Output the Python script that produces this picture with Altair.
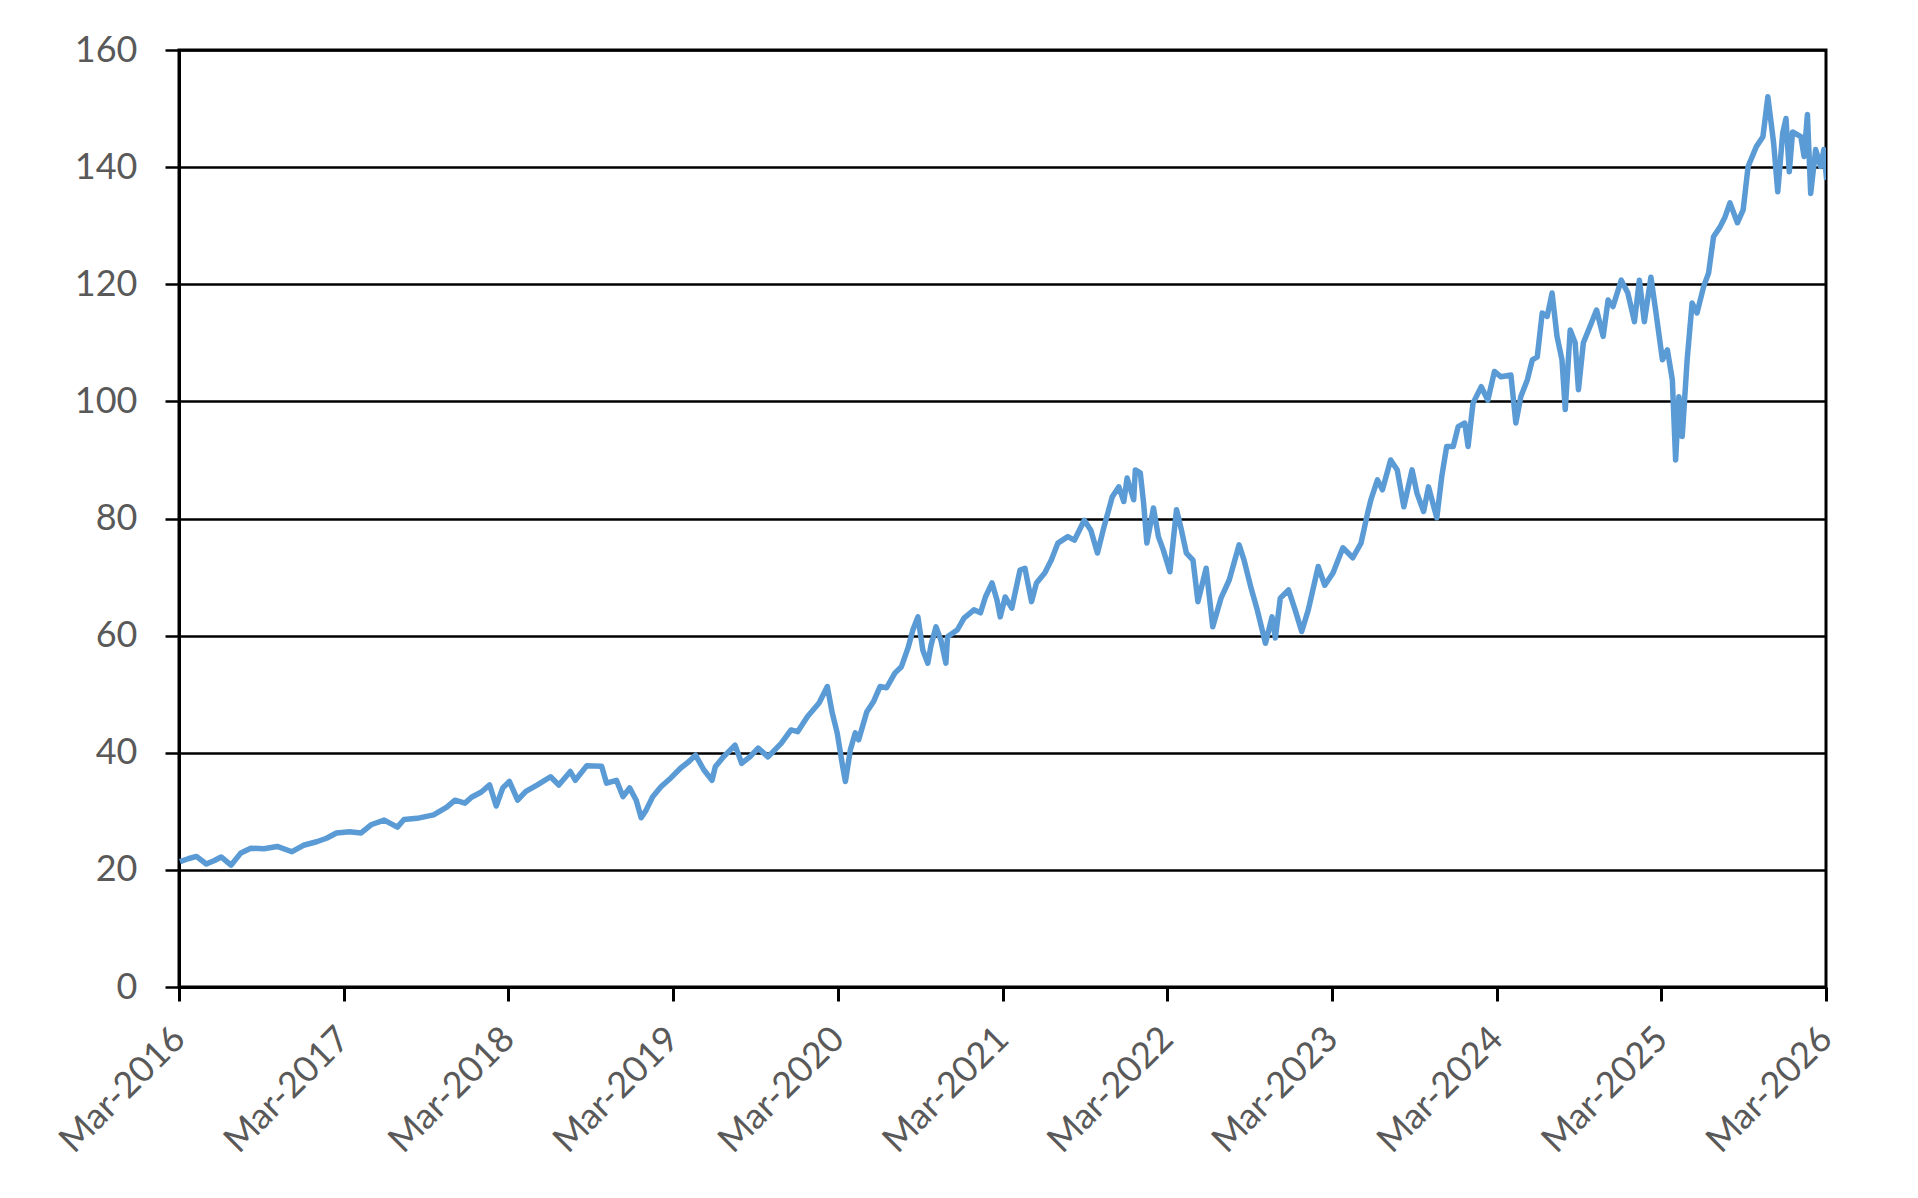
import altair as alt
import pandas as pd

# decimal year of each reading and the value
t_year = [
    2016.17, 2016.22, 2016.27, 2016.33, 2016.38, 2016.42, 2016.48, 2016.54, 2016.60, 2016.68,
    2016.76, 2016.85, 2016.92, 2017.00, 2017.06, 2017.12, 2017.20, 2017.27, 2017.33, 2017.41,
    2017.49, 2017.53, 2017.61, 2017.71, 2017.79, 2017.84, 2017.90, 2017.94, 2018.00, 2018.05,
    2018.09, 2018.13, 2018.17, 2018.22, 2018.27, 2018.34, 2018.42, 2018.47, 2018.54, 2018.57,
    2018.64, 2018.73, 2018.76, 2018.82, 2018.86, 2018.90, 2018.94, 2018.97, 2019.00, 2019.04,
    2019.09, 2019.15, 2019.21, 2019.26, 2019.30, 2019.35, 2019.40, 2019.42, 2019.47, 2019.54,
    2019.58, 2019.63, 2019.68, 2019.74, 2019.82, 2019.88, 2019.92, 2019.98, 2020.05, 2020.10,
    2020.13, 2020.16, 2020.19, 2020.21, 2020.24, 2020.27, 2020.29, 2020.34, 2020.38, 2020.42,
    2020.46, 2020.51, 2020.55, 2020.59, 2020.62, 2020.65, 2020.68, 2020.71, 2020.73, 2020.76,
    2020.79, 2020.82, 2020.83, 2020.89, 2020.93, 2020.99, 2021.03, 2021.06, 2021.10, 2021.13,
    2021.15, 2021.18, 2021.22, 2021.27, 2021.30, 2021.34, 2021.37, 2021.42, 2021.46, 2021.50,
    2021.56, 2021.60, 2021.66, 2021.70, 2021.74, 2021.78, 2021.83, 2021.87, 2021.90, 2021.92,
    2021.96, 2021.97, 2022.00, 2022.02, 2022.04, 2022.08, 2022.11, 2022.14, 2022.18, 2022.22,
    2022.25, 2022.28, 2022.32, 2022.35, 2022.40, 2022.44, 2022.49, 2022.54, 2022.60, 2022.63,
    2022.67, 2022.71, 2022.76, 2022.80, 2022.82, 2022.85, 2022.90, 2022.94, 2022.98, 2023.02,
    2023.08, 2023.12, 2023.17, 2023.23, 2023.29, 2023.34, 2023.38, 2023.40, 2023.44, 2023.47,
    2023.52, 2023.56, 2023.60, 2023.65, 2023.68, 2023.72, 2023.75, 2023.80, 2023.83, 2023.86,
    2023.90, 2023.93, 2023.97, 2023.99, 2024.02, 2024.07, 2024.11, 2024.15, 2024.19, 2024.25,
    2024.28, 2024.31, 2024.35, 2024.38, 2024.41, 2024.44, 2024.47, 2024.50, 2024.53, 2024.56,
    2024.58, 2024.61, 2024.64, 2024.66, 2024.69, 2024.73, 2024.77, 2024.81, 2024.84, 2024.87,
    2024.92, 2024.96, 2025.00, 2025.03, 2025.06, 2025.10, 2025.13, 2025.17, 2025.20, 2025.23,
    2025.25, 2025.27, 2025.29, 2025.32, 2025.35, 2025.38, 2025.42, 2025.45, 2025.48, 2025.52,
    2025.55, 2025.58, 2025.625, 2025.66, 2025.69, 2025.74, 2025.78, 2025.81, 2025.83, 2025.845,
    2025.87, 2025.90, 2025.92, 2025.94, 2025.96, 2026.01, 2026.03, 2026.05, 2026.07, 2026.10,
    2026.13, 2026.15, 2026.167,
]
values = [
    21.4, 21.9, 22.3, 21.0, 21.6, 22.2, 20.8, 22.9, 23.7, 23.6,
    24.0, 23.1, 24.2, 24.8, 25.4, 26.3, 26.5, 26.3, 27.7, 28.5,
    27.3, 28.6, 28.8, 29.4, 30.7, 31.9, 31.4, 32.4, 33.3, 34.5,
    30.9, 34.0, 35.1, 31.9, 33.4, 34.5, 35.9, 34.5, 36.8, 35.3,
    37.8, 37.7, 34.8, 35.3, 32.5, 34.0, 31.9, 28.9, 30.2, 32.5,
    34.2, 35.7, 37.4, 38.5, 39.6, 37.1, 35.3, 37.6, 39.3, 41.3,
    38.2, 39.3, 40.8, 39.3, 41.6, 43.9, 43.6, 46.2, 48.5, 51.3,
    46.8, 43.4, 38.2, 35.1, 40.5, 43.4, 42.2, 47.0, 48.7, 51.3,
    51.1, 53.6, 54.7, 57.9, 61.0, 63.2, 57.5, 55.3, 58.4, 61.5,
    59.2, 55.3, 59.8, 61.0, 63.0, 64.4, 63.9, 66.6, 69.0, 66.1,
    63.2, 66.6, 64.7, 71.2, 71.5, 65.8, 69.0, 70.7, 72.9, 75.8,
    76.9, 76.3, 79.7, 78.0, 74.1, 78.6, 83.7, 85.4, 82.9, 86.9,
    83.2, 88.3, 87.8, 82.7, 75.8, 81.8, 76.9, 74.6, 70.9, 81.5,
    78.0, 74.1, 72.9, 65.8, 71.5, 61.5, 66.4, 69.5, 75.5, 72.9,
    68.4, 64.4, 58.7, 63.2, 59.6, 66.4, 67.8, 64.4, 60.7, 64.4,
    71.8, 68.6, 70.7, 75.0, 73.3, 75.8, 80.9, 83.2, 86.6, 84.9,
    90.0, 88.3, 82.0, 88.3, 84.3, 81.2, 85.4, 80.1, 87.1, 92.3,
    92.3, 95.7, 96.3, 92.3, 99.7, 102.5, 100.2, 105.1, 104.2, 104.5,
    96.3, 100.8, 103.7, 107.1, 107.6, 115.1, 114.5, 118.5, 111.1, 107.1,
    98.6, 112.2, 110.0, 102.0, 110.0, 112.8, 115.6, 111.1, 117.3, 116.2,
    120.7, 118.5, 113.6, 120.7, 113.6, 121.2, 115.3, 107.1, 108.8, 103.7,
    90.0, 100.8, 94.0, 107.1, 116.8, 115.1, 119.6, 121.9, 128.1, 129.8,
    131.5, 133.9, 130.5, 132.7, 140.1, 143.5, 145.2, 152.0, 147.5, 144.1,
    135.8, 145.8, 148.3, 139.2, 146.0, 145.2, 141.8, 149.0, 135.5, 143.0,
    140.1, 143.0, 137.8,
]
tick_years = list(range(2016, 2027))
y_ticks = [0, 20, 40, 60, 80, 100, 120, 140, 160]

base = pd.Timestamp("2016-01-01")
dates = [base + pd.to_timedelta((t - 2016) * 365.25, unit="D") for t in t_year]
df = pd.DataFrame({"date": dates, "value": values})

FONT = "Lato"
LABEL_COLOR = "#595959"

chart = (
    alt.Chart(df)
    .mark_line(color="#5B9BD5", strokeWidth=5.5, clip=True, strokeJoin="round")
    .encode(
        x=alt.X(
            "date:T",
            title=None,
            scale=alt.Scale(
                domain=[
                    alt.DateTime(year=2016, month=3, date=1),
                    alt.DateTime(year=2026, month=3, date=1),
                ]
            ),
            axis=alt.Axis(
                values=[alt.DateTime(year=y, month=3, date=1) for y in tick_years],
                format="%b-%Y",
                labelAngle=-45,
                labelAlign="right",
                labelBaseline="middle",
                labelPadding=32,
                labelOverlap=False,
                grid=False,
                tickSize=14,
                tickWidth=3,
                tickColor="black",
                domainColor="black",
                domainWidth=3,
            ),
        ),
        y=alt.Y(
            "value:Q",
            title=None,
            scale=alt.Scale(domain=[0, 160], nice=False),
            axis=alt.Axis(
                values=y_ticks,
                grid=True,
                gridColor="black",
                gridWidth=2.5,
                gridOpacity=1,
                tickSize=14,
                tickWidth=2.5,
                tickColor="black",
                domainColor="black",
                domainWidth=3,
                labelPadding=28,
            ),
        ),
    )
    .properties(
        width=1647,
        height=937,
        autosize="none",
        padding={"left": 171, "top": 42, "right": 60, "bottom": 190},
        background="white",
    )
    .configure_axis(
        labelFont=FONT,
        labelFontSize=36,
        labelColor=LABEL_COLOR,
    )
    .configure_view(stroke="black", strokeWidth=3)
)

chart.save("out.html", embed_options={"renderer": "svg", "actions": False})
